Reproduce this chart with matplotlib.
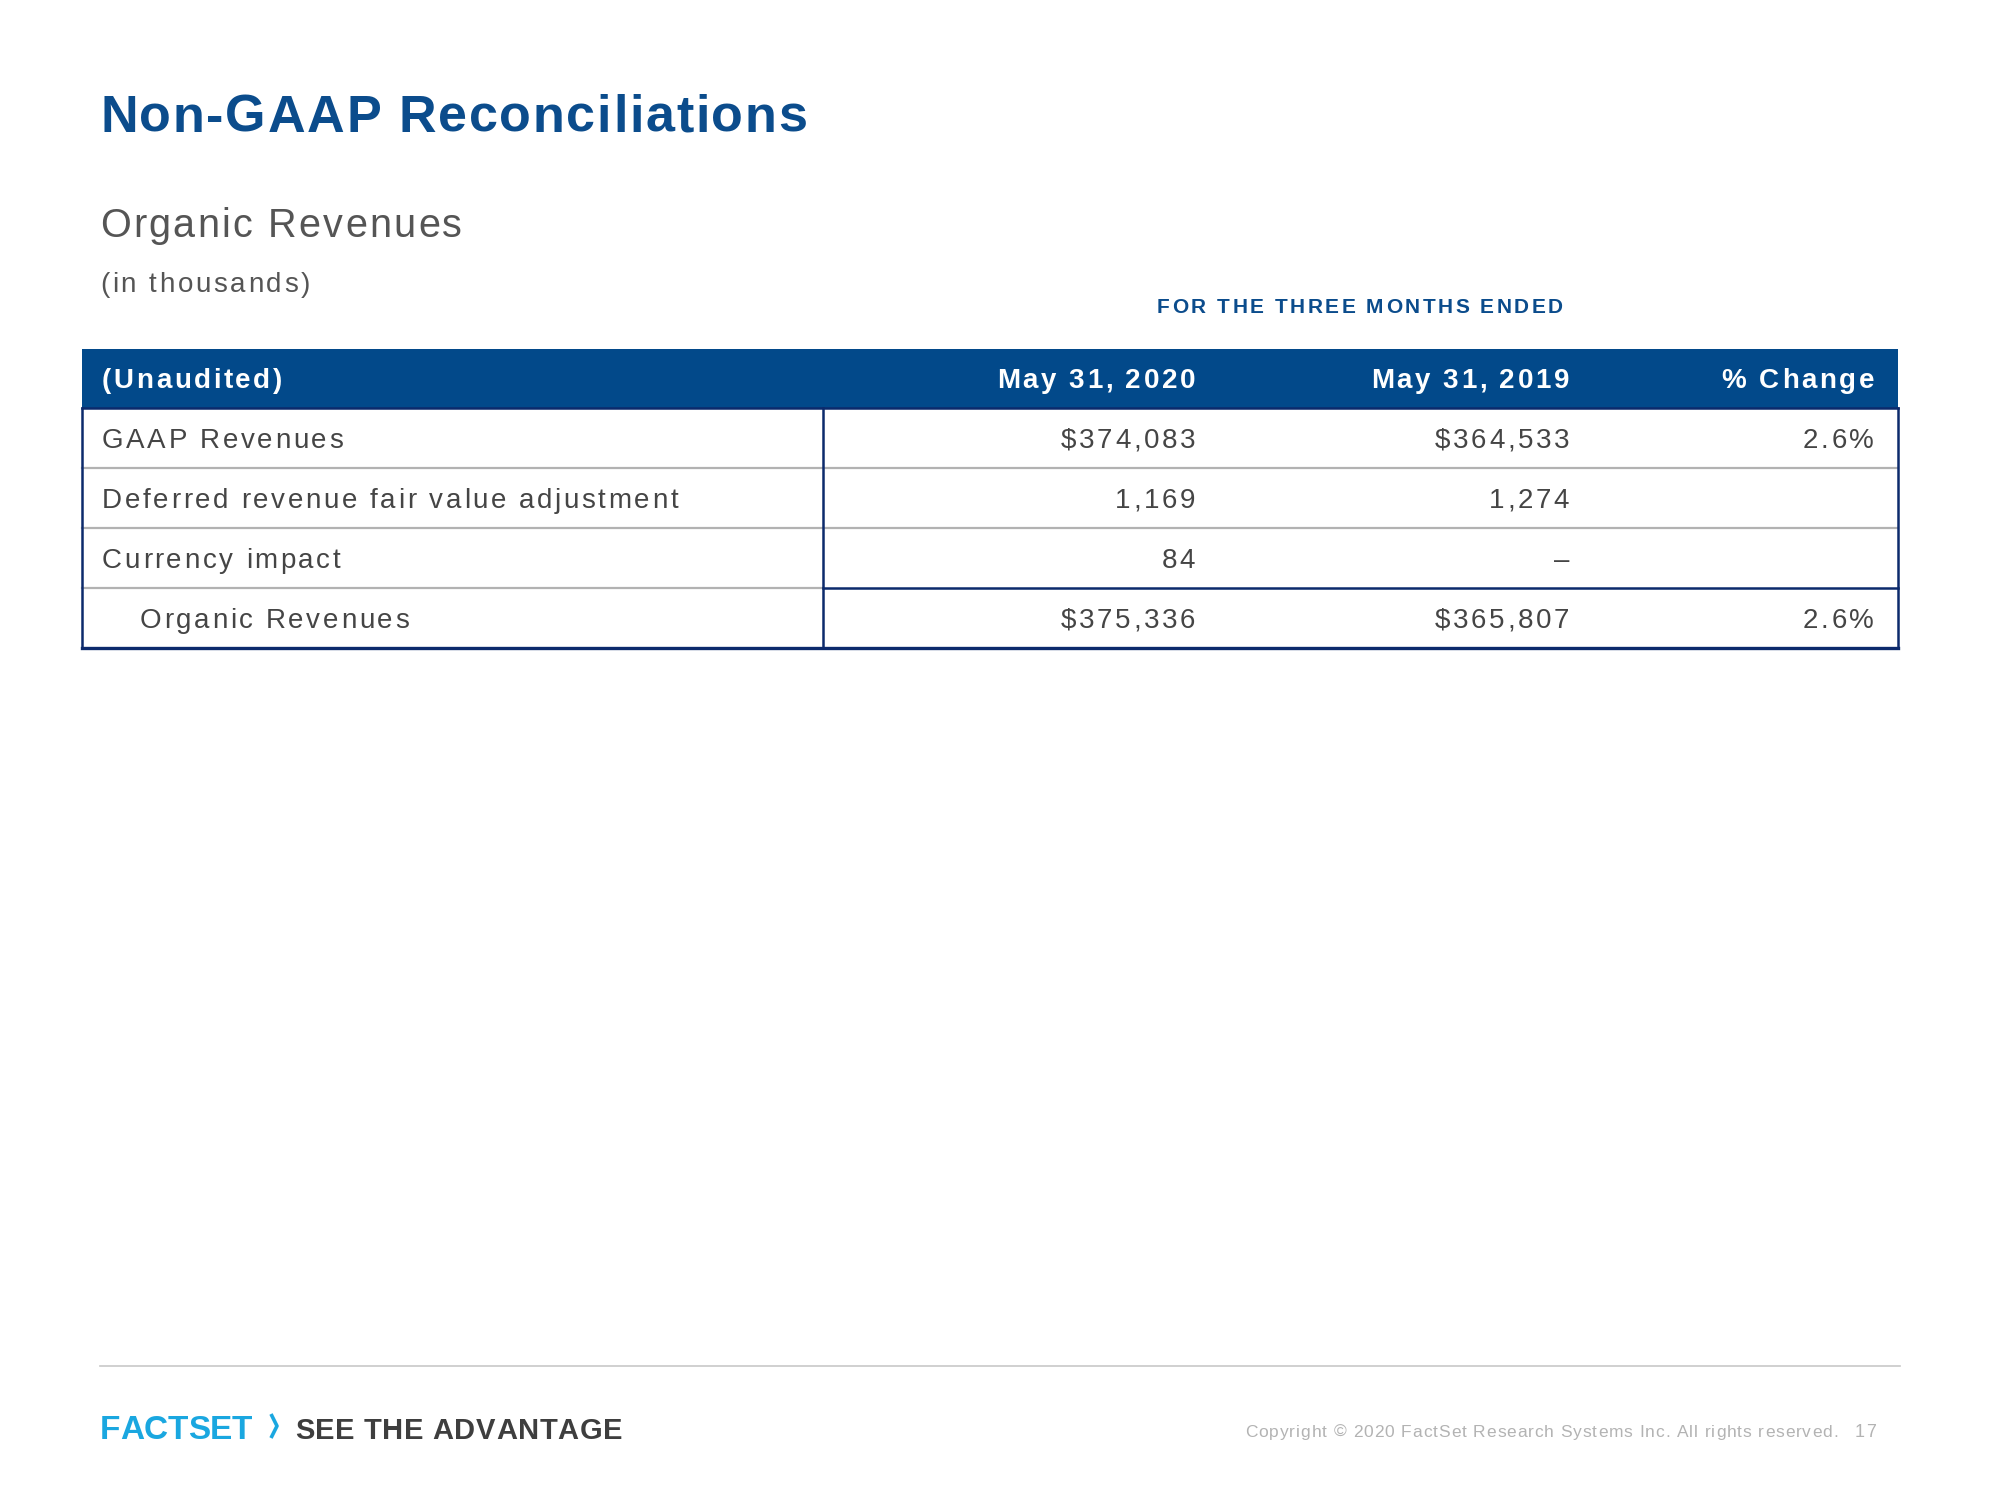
import matplotlib
matplotlib.use('Agg')
import matplotlib.pyplot as plt
from matplotlib.patches import Rectangle
from matplotlib.font_manager import FontProperties, findfont, get_font

# table data (in thousands)
row_labels = ['GAAP Revenues', 'Deferred revenue fair value adjustment', 'Currency impact', 'Organic Revenues']
col_headers = ['(Unaudited)', 'May 31, 2020', 'May 31, 2019', '% Change']
vals_2020 = [374083, 1169, 84, 375336]
vals_2019 = [364533, 1274, None, 365807]
pct_change = [2.6, None, None, 2.6]
dollar_rows = [0, 3]
indent_rows = [3]

FONT = 'Liberation Sans'
BLUE = '#0b4c8c'
HEAD = '#02498a'
NAVY = '#0c2a6c'
TXT = '#454545'
GRAY = '#b2b2b2'

fig = plt.figure(figsize=(20, 15), dpi=100)
ax = fig.add_axes([0, 0, 1, 1])
ax.set_xlim(0, 2000)
ax.set_ylim(1500, 0)
ax.axis('off')


def advances(s, weight, size):
    prop = FontProperties(family=FONT, weight=weight, size=size)
    f = get_font(findfont(prop))
    f.set_size(size, 100)
    return [f.load_char(ord(c)).linearHoriAdvance / 65536 for c in s]


def spaced(x, y, s, size, color, weight='normal', track=0, width=None, ha='left'):
    # draw text letter by letter so it gets the wide tracking of the slide
    adv = advances(s, weight, size)
    if width is not None:
        track = (width - sum(adv)) / (len(s) - 1)
    total = sum(adv) + track * (len(s) - 1)
    if ha == 'right':
        x = x - total
    for c, a in zip(s, adv):
        if c != ' ':
            ax.text(x, y, c, fontsize=size, color=color, fontweight=weight, family=FONT, va='baseline', ha='left')
        x += a + track


def fmt(v, i):
    if v is None:
        return '–'
    s = f'{v:,}'
    if i in dollar_rows:
        s = '$' + s
    return s


# titles
spaced(100, 132, 'Non-GAAP Reconciliations', 37.5, BLUE, weight='bold', width=707)
spaced(100, 237, 'Organic Revenues', 28.5, '#555555', width=362)
spaced(100, 292, '(in thousands)', 20, '#555555', width=210)
spaced(1157, 313, 'FOR THE THREE MONTHS ENDED', 15, BLUE, weight='bold', width=406)

# table geometry
left, right, sep = 82, 1898, 823
top, row_h = 408, 60
col_right = [1195, 1569, 1874]
TRACK = 2.6

ax.add_patch(Rectangle((left, 349), right - left, top - 349, color=HEAD, lw=0))
spaced(102, 388, col_headers[0], 20, 'white', weight='bold', track=TRACK)
for h, xr in zip(col_headers[1:], col_right):
    spaced(xr, 388, h, 20, 'white', weight='bold', track=TRACK, ha='right')

n = len(row_labels)
for i in range(n):
    yb = top + row_h * i + 40
    xl = 140 if i in indent_rows else 102
    spaced(xl, yb, row_labels[i], 20, TXT, track=TRACK)
    spaced(col_right[0], yb, fmt(vals_2020[i], i), 20, TXT, track=TRACK, ha='right')
    spaced(col_right[1], yb, fmt(vals_2019[i], i), 20, TXT, track=TRACK, ha='right')
    if pct_change[i] is not None:
        spaced(col_right[2], yb, f'{pct_change[i]:.1f}%', 20, TXT, track=TRACK, ha='right')

# row dividers
for i in range(1, n):
    y = top + row_h * i
    if i == n - 1:
        ax.plot([left, sep], [y, y], color=GRAY, lw=1.6)
        ax.plot([sep, right], [y, y], color=NAVY, lw=1.8)
    else:
        ax.plot([left, right], [y, y], color=GRAY, lw=1.6)

bottom = top + row_h * n
ax.plot([left, right], [top, top], color=NAVY, lw=1.8)
ax.plot([left, right], [bottom, bottom], color=NAVY, lw=2.4)
for x in [left, sep, right]:
    ax.plot([x, x], [top, bottom], color=NAVY, lw=1.8)

# footer
ax.plot([100, 1900], [1366, 1366], color='#c8c8c8', lw=1.2)
spaced(100, 1439, 'FACTSET', 24, '#1aa7e0', weight='bold', width=152)
ax.plot([271, 277, 271], [1414, 1426, 1438], color='#1aa7e0', lw=2.6, solid_capstyle='butt')
spaced(295, 1439, 'SEE THE ADVANTAGE', 21, '#3e3e3e', weight='bold', width=327)
spaced(1245, 1437, 'Copyright © 2020 FactSet Research Systems Inc. All rights reserved.', 12.5, '#b3b3b3', width=593)
spaced(1876, 1437, '17', 13, '#b3b3b3', track=1, ha='right')

fig.savefig('out.png', dpi=100, facecolor='white')
